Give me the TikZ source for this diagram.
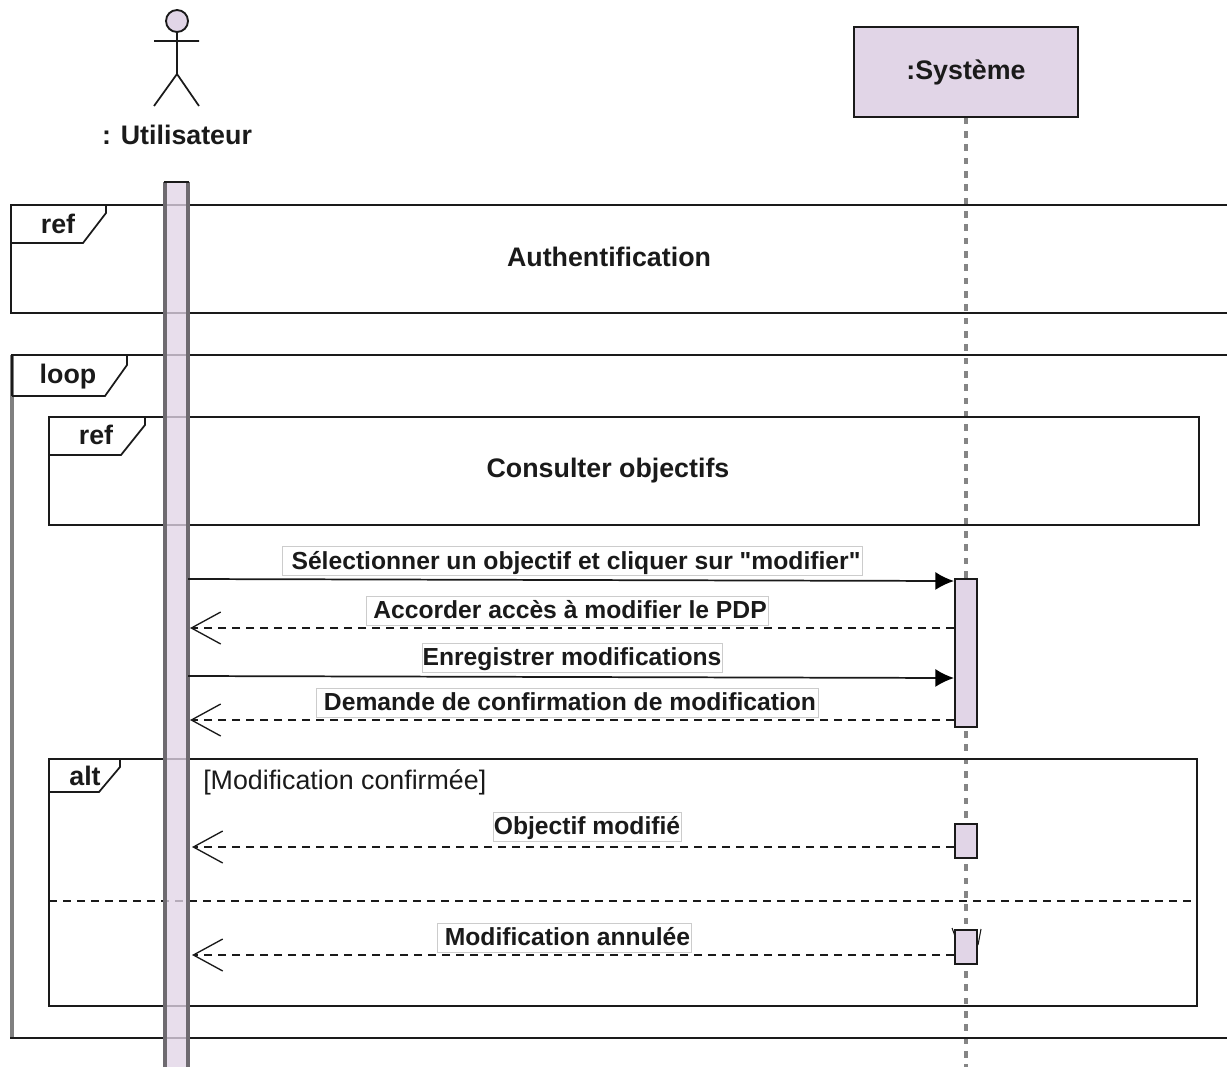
\documentclass[tikz,border=0pt]{standalone}
\usepackage{fontspec}
\setmainfont{Liberation Sans}
\newfontfamily\plainsans{Liberation Sans}
\usetikzlibrary{arrows.meta}
\definecolor{lilac}{HTML}{E1D5E7}
\definecolor{ink}{HTML}{1A1A1A}
\definecolor{barline}{HTML}{6E6A70}
\tikzset{
  px/.style={x=0.75pt,y=-0.75pt},
  frameline/.style={draw=ink,line width=1.3pt},
  lbl/.style={font=\fontsize{20.1}{24}\selectfont\bfseries,text=ink,inner sep=0pt},
  msglbl/.style={font=\fontsize{18.5}{22}\selectfont\bfseries,text=ink,fill=white,draw=black!20,line width=0.7pt,inner sep=0pt,text height=13.5pt,text depth=1.5pt,minimum height=21.75pt},
  activation/.style={draw=ink,line width=1.7pt,fill=lilac,inner sep=0pt,minimum width=17pt},
  call/.style={draw=ink,line width=1.3pt,-{Latex[length=14pt,width=13.5pt,color=black]}},
  reply/.style={draw=ink,line width=1.2pt,dash pattern=on 6pt off 4.5pt,-{Straight Barb[length=22pt,width=24pt,line width=1pt]}},
}
\begin{document}
\begin{tikzpicture}[px]
\useasboundingbox (0,0) rectangle (1227,1067);
\begin{scope}
\clip (0,0) rectangle (1227,1067);
% system lifeline
\node[draw=ink,line width=1.7pt,fill=lilac,minimum width=168.5pt,minimum height=67pt,inner sep=0pt,font=\fontsize{20.1}{24}\selectfont\bfseries,text=ink] (sys) at (966,72) {\raisebox{1pt}{:Système}};
\coordinate (sysend) at (966,1067);
\draw[draw=black!48,line width=2.4pt,dash pattern=on 5pt off 5pt] (sys.south) -- (sysend);
% frames
\draw[frameline] (1240,205) -- (11,205) -- (11,313) -- (1240,313);
\draw[frameline] (11,243) -- (83,243) -- (106,213) -- (106,205);
\draw[draw=black!50,line width=3pt] (12,355) -- (12,1038);
\draw[frameline] (1240,355) -- (12,355) -- (12,396);
\draw[frameline] (10,1038) -- (1240,1038);
\draw[frameline] (12,396) -- (105,396) -- (127,365) -- (127,355);
\draw[frameline] (49,417) rectangle (1199,525);
\draw[frameline] (49,455) -- (121,455) -- (145,425) -- (145,417);
\draw[frameline] (49,759) rectangle (1197,1006);
\draw[frameline] (49,792) -- (99,792) -- (120,767) -- (120,759);
\draw[draw=ink,line width=1.2pt,dash pattern=on 6pt off 4.5pt] (49,901) -- (1193,901);
% user activation bar
\fill[lilac,fill opacity=0.78] (165,182) rectangle (188,1067);
\draw[barline,line width=2.6pt] (165,1067) -- (165,182) (188,182) -- (188,1067);
\draw[ink,line width=1.3pt] (164,182) -- (189,182);
\end{scope}
% actor
\node[circle,draw=ink,line width=1.4pt,fill=lilac,minimum size=16.5pt,inner sep=0pt] (head) at (177,21) {};
\coordinate (hip) at (177,74);
\coordinate (armL) at (154,41);
\coordinate (armR) at (199,41);
\coordinate (footL) at (154,106);
\coordinate (footR) at (199,106);
\draw[ink,line width=1.3pt] (head.south) -- (hip) (armL) -- (armR) (footL) -- (hip) -- (footR);
\node[lbl] (user) at (177,135) {: Utilisateur};
% frame labels
\node[lbl] (t1) at (58,224) {ref};
\node[lbl] (t2) at (68,377) {loop};
\node[lbl] (t3) at (96,435) {ref};
\node[lbl] (t4) at (85,776) {alt};
\node[lbl] (auth) at (609,257) {Authentification};
\node[lbl] (cons) at (608,471) {Consulter objectifs};
\node[anchor=west,font=\fontsize{20.1}{24}\selectfont,text=ink,inner sep=0pt] (guard) at (203,782) {[Modification confirmée]};
% activations
\node[activation,minimum height=111pt] (e1) at (966,653) {};
\node[activation,minimum height=25.5pt] (e2) at (966,841) {};
\node[activation,minimum height=25.5pt] (e3) at (966,947) {};
\draw[ink,line width=0.8pt] (981,929) -- (978,945) (952,928) -- (955,936);
% message ends
\coordinate (u1) at (188,579); \coordinate (s1) at (954,581);
\coordinate (u2) at (190,628); \coordinate (s2) at (954,628);
\coordinate (u3) at (188,676); \coordinate (s3) at (954,678);
\coordinate (u4) at (190,720); \coordinate (s4) at (954,720);
\coordinate (u5) at (192,847); \coordinate (s5) at (954,847);
\coordinate (u6) at (192,955); \coordinate (s6) at (954,955);
\draw[call] (u1) -- (s1);
\draw[reply] (s2) -- (u2);
\draw[call] (u3) -- (s3);
\draw[reply] (s4) -- (u4);
\draw[reply] (s5) -- (u5);
\draw[reply] (s6) -- (u6);
% message labels
\node[msglbl,minimum width=435pt] (m1) at (572,561) {\hspace*{6pt}{\plainsans\bfseries Sélectionner un objectif et cliquer sur "modifier"}};
\node[msglbl,minimum width=301.5pt] (m2) at (567,610.5) {\hspace*{4.5pt}Accorder accès à modifier le PDP};
\node[msglbl,minimum width=225pt] (m3) at (572,657.5) {Enregistrer modifications};
\node[msglbl,minimum width=376.5pt] (m4) at (567,702.5) {\hspace*{4.5pt}Demande de confirmation de modification};
\node[msglbl,minimum width=141pt] (m5) at (587,826.5) {Objectif modifié};
\node[msglbl,minimum width=191pt] (m6) at (564.5,937.5) {\hspace*{4.5pt}Modification annulée};
\end{tikzpicture}
\end{document}
